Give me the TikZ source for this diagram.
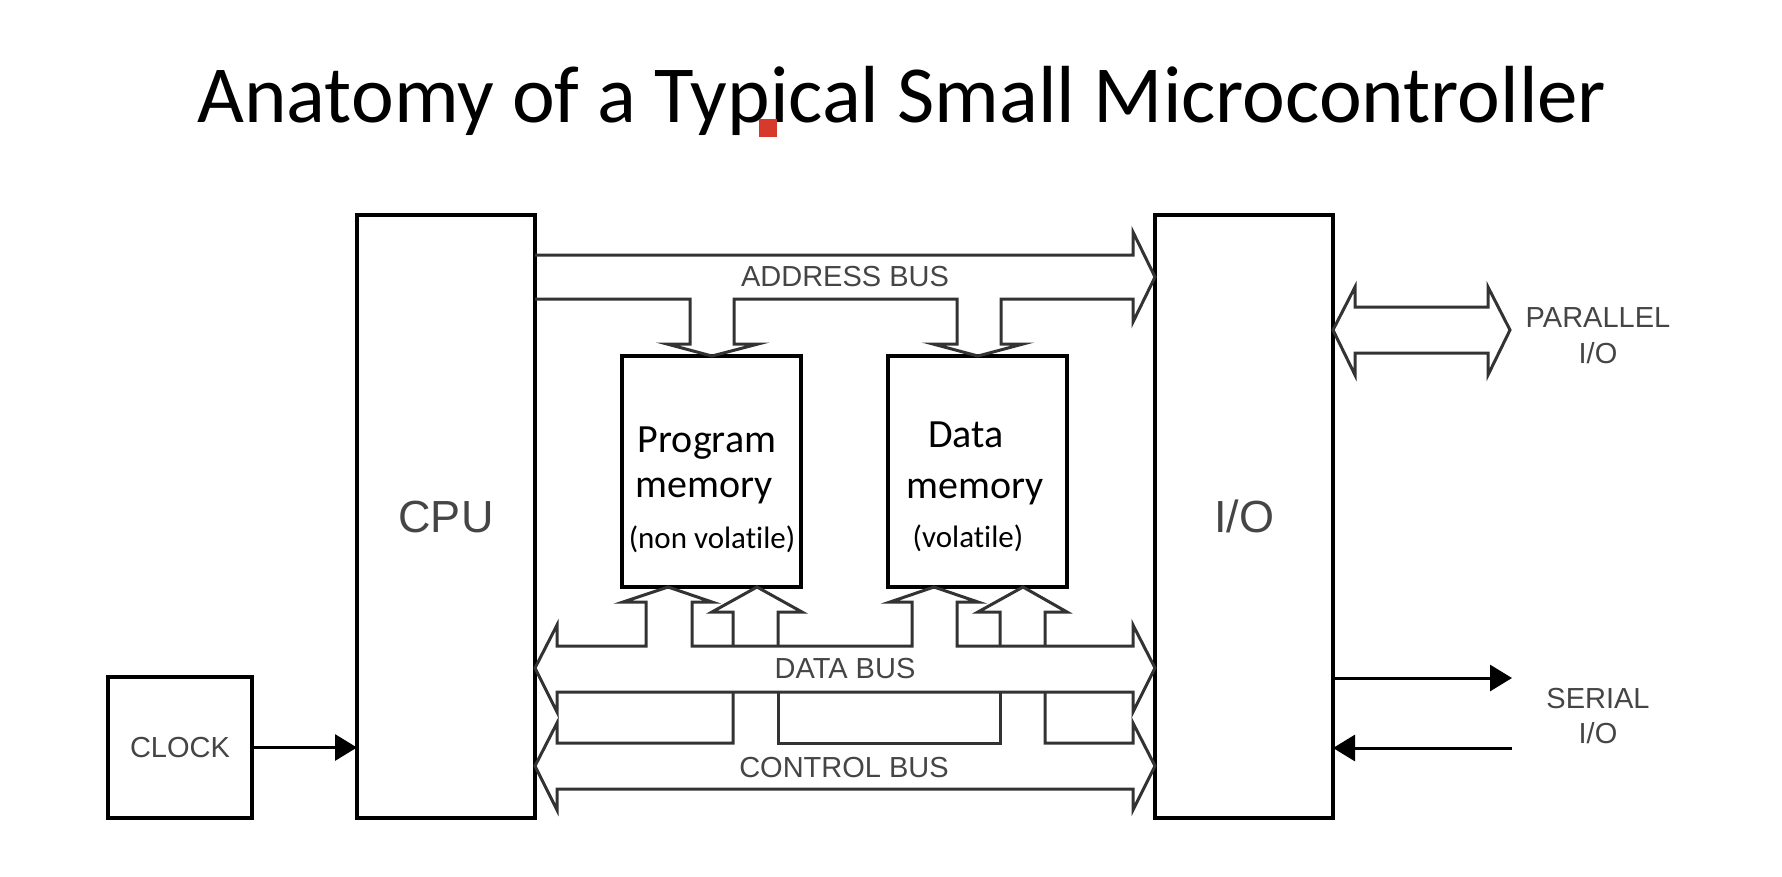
\documentclass[tikz,border=0pt]{standalone}
\usepackage{fontspec}
\setmainfont{Carlito}[Ligatures={NoCommon}]
\newfontfamily\arialf{Liberation Sans}
\usetikzlibrary{arrows.meta}
\definecolor{busc}{HTML}{333333}
\definecolor{lblc}{HTML}{454545}
\definecolor{redmark}{HTML}{D63A2A}
\begin{document}
\begin{tikzpicture}[x=1pt,y=-1pt,
  box/.style={draw=black, line width=4.5pt, inner sep=0pt, outer sep=0pt, fill=white},
  bus/.style={draw=busc, line width=3pt, line join=miter, miter limit=12},
  lbl/.style={font=\arialf\fontsize{29}{33}\selectfont, text=lblc, anchor=base, inner sep=0pt},
  bigtxt/.style={font=\arialf\fontsize{45}{50}\selectfont, text=lblc},
  midtxt/.style={font=\arialf\fontsize{29}{33}\selectfont, text=lblc},
  mem/.style={font=\fontsize{40}{44}\selectfont, anchor=base, inner sep=0pt, text=black},
  memsm/.style={font=\fontsize{31}{35}\selectfont, anchor=base, inner xsep=3pt, inner ysep=6pt, text=black, fill=white},
  arr/.style={draw=black, line width=3pt, -{Triangle[length=22pt,width=26pt]}}
]
\useasboundingbox[fill=white] (0,0) rectangle (1782,876);

% title
\node[font=\fontsize{81}{85}\selectfont, anchor=base, inner sep=0pt] (title) at (902,122) {Anatomy of a Typical Small Microcontroller};
\fill[redmark] (759,119) rectangle (777,137);

% main blocks
\node[box, bigtxt, minimum width=178pt, minimum height=603pt] (cpu) at (446,516.5) {CPU};
\node[box, bigtxt, minimum width=178pt, minimum height=603pt] (io) at (1244,516.5) {I/O};
\node[box, minimum width=179pt, minimum height=231pt] (pm) at (711.5,471.5) {};
\node[box, minimum width=179pt, minimum height=231pt] (dm) at (977.5,471.5) {};
\node[box, midtxt, minimum width=144pt, minimum height=141pt] (clock) at (180,747.5) {CLOCK};

% memory texts
\node[mem] (pmt1) at (707,452) {Program};
\node[mem] (pmt2) at (704,497) {memory};
\node[memsm] (pmt3) at (712,548) {(non volatile)};
\node[mem] (dmt1) at (966,447) {Data};
\node[mem] (dmt2) at (975,498) {memory};
\node[memsm, fill=none] (dmt3) at (968,547) {(volatile)};

% address bus
\draw[bus] (535,255) -- (1133,255) -- (1133,232) -- (1155,277) -- (1133,322) -- (1133,299)
  -- (1001,299) -- (1001,344) -- (1023,344) -- (978,356) -- (933,344) -- (957,344) -- (957,299)
  -- (734,299) -- (734,344) -- (758,344) -- (712,356) -- (667,344) -- (690,344) -- (690,299) -- (535,299);
\node[lbl] (addr) at (845,286) {ADDRESS BUS};

% data bus
\draw[bus] (535,668) -- (557,625) -- (557,646) -- (646,646) -- (646,602) -- (623,602) -- (668,587)
  -- (712,602) -- (692,602) -- (692,646) -- (912,646) -- (912,602) -- (890,602) -- (934,587)
  -- (978,602) -- (957,602) -- (957,646) -- (1133,646) -- (1133,625) -- (1155,668) -- (1133,712)
  -- (1133,692) -- (557,692) -- (557,712) -- cycle;
\node[lbl] (dbus) at (845,678) {DATA BUS};

% control bus
\draw[bus] (733,692) -- (733,743) -- (557,743) -- (557,723) -- (535,766) -- (557,810) -- (557,789)
  -- (1133,789) -- (1133,810) -- (1155,766) -- (1133,723) -- (1133,743) -- (1045,743) -- (1045,692);
\draw[bus] (1000,692) -- (1000,743) -- (778,743) -- (778,692);
\draw[bus] (733,646) -- (733,612) -- (712,612) -- (757,587) -- (802,612) -- (778,612) -- (778,646);
\draw[bus] (1000,646) -- (1000,612) -- (978,612) -- (1023,587) -- (1067,612) -- (1045,612) -- (1045,646);
\node[lbl] (cbus) at (844,777) {CONTROL BUS};

% parallel I/O
\draw[bus] (1333,330) -- (1355,287) -- (1355,307) -- (1488,307) -- (1488,287) -- (1510,330)
  -- (1488,375) -- (1488,353) -- (1355,353) -- (1355,375) -- cycle;
\node[lbl] (par1) at (1598,327) {PARALLEL};
\node[lbl] (par2) at (1598,363) {I/O};

% serial I/O
\coordinate (sout) at (1512,678);
\coordinate (sin) at (1512,748);
\draw[arr] (io.east |- sout) -- (sout);
\draw[arr] (sin) -- (io.east |- sin);
\node[lbl] (ser1) at (1598,708) {SERIAL};
\node[lbl] (ser2) at (1598,743) {I/O};

% clock
\draw[arr] (clock.east) -- (clock.east -| cpu.west);
\end{tikzpicture}
\end{document}
